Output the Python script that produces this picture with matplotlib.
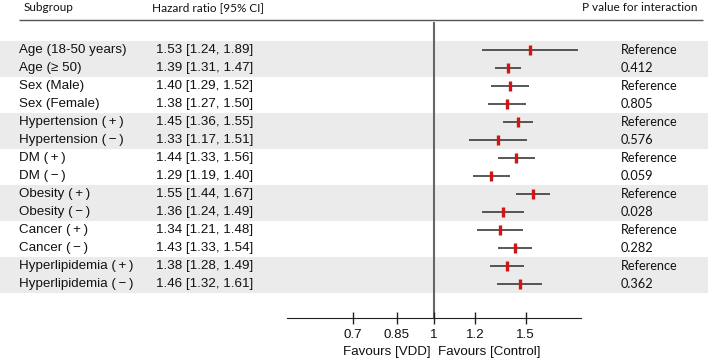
import numpy as np
import matplotlib.pyplot as plt
from matplotlib.transforms import blended_transform_factory

# Data
subgroups = ['Age (18-50 years)', 'Age (\u2265 50)',
             'Sex (Male)', 'Sex (Female)',
             'Hypertension (\u2009+\u2009)', 'Hypertension (\u2009\u2212\u2009)',
             'DM (\u2009+\u2009)', 'DM (\u2009\u2212\u2009)',
             'Obesity (\u2009+\u2009)', 'Obesity (\u2009\u2212\u2009)',
             'Cancer (\u2009+\u2009)', 'Cancer (\u2009\u2212\u2009)',
             'Hyperlipidemia (\u2009+\u2009)', 'Hyperlipidemia (\u2009\u2212\u2009)']
hr = [1.53, 1.39, 1.40, 1.38, 1.45, 1.33, 1.44, 1.29, 1.55, 1.36, 1.34, 1.43, 1.38, 1.46]
lo = [1.24, 1.31, 1.29, 1.27, 1.36, 1.17, 1.33, 1.19, 1.44, 1.24, 1.21, 1.33, 1.28, 1.32]
hi = [1.89, 1.47, 1.52, 1.50, 1.55, 1.51, 1.56, 1.40, 1.67, 1.49, 1.48, 1.54, 1.49, 1.61]
pvals = ['Reference', '0.412', 'Reference', '0.805', 'Reference', '0.576',
         'Reference', '0.059', 'Reference', '0.028', 'Reference', '0.282',
         'Reference', '0.362']
xticks = [0.7, 0.85, 1, 1.2, 1.5]
xticklabels = ['0.7', '0.85', '1', '1.2', '1.5']

W, H = 708, 358
arial = ['Liberation Sans', 'DejaVu Sans']
calibri = ['Lato', 'DejaVu Sans']
txt = '#111111'
fs = 9.6

fig = plt.figure(figsize=(W / 100, H / 100), dpi=100)

# background axes in pixel-like coordinates (y down)
bg = fig.add_axes([0, 0, 1, 1])
bg.set_xlim(0, W)
bg.set_ylim(H, 0)
bg.axis('off')

n = len(subgroups)
ys = 50 + 18.02 * np.arange(n)

# shaded bands for alternating groups
for k in range(0, n, 4):
    bg.axhspan(ys[k] - 9.5, ys[k + 1] + 8.5, color='#ebebeb', lw=0, zorder=0)

# header
bg.text(24, 7.5, 'Subgroup', family=calibri, fontsize=8.5, color=txt, va='center')
bg.text(152, 7.5, 'Hazard ratio [95% CI]', family=calibri, fontsize=8.5, color=txt, va='center')
bg.text(698, 7.5, 'P value for interaction', family=calibri, fontsize=8.5, color=txt,
        va='center', ha='right')
bg.hlines(19.5, 19, 703, color='#555555', lw=1)

for i in range(n):
    bg.text(19, ys[i], subgroups[i], family=arial, fontsize=fs, color=txt, va='center')
    bg.text(156.5, ys[i], '%.2f [%.2f, %.2f]' % (hr[i], lo[i], hi[i]),
            family=arial, fontsize=fs, color=txt, va='center')
    bg.text(620.5, ys[i], pvals[i], family=calibri, fontsize=9.2, color=txt, va='center')

# forest axes (log scale)
x0, x1 = 287.3, 580.7
ax = fig.add_axes([x0 / W, 0, (x1 - x0) / W, 1])
ax.patch.set_alpha(0)
ax.set_xscale('log')
ax.set_xlim(0.525, 1.911)
ax.set_ylim(H, 0)

ax.hlines(ys, lo, hi, color='#2a2a2a', lw=1.1, zorder=2)
ax.plot(hr, ys, ls='none', marker='|', ms=7.5, mew=2.4, color='#d41414', zorder=3)
ax.vlines(1, 22, 318, color='#666666', lw=1.5, zorder=1)

for s in ['left', 'right', 'top']:
    ax.spines[s].set_visible(False)
ax.spines['bottom'].set_position(('data', 318))
ax.spines['bottom'].set_color('#222222')
ax.set_yticks([])
ax.xaxis.set_minor_locator(plt.NullLocator())
ax.set_xticks(xticks)
ax.set_xticklabels(xticklabels, family=arial, fontsize=fs, color=txt)
ax.tick_params(axis='x', direction='inout', length=8, width=1, color='#222222', pad=3.8)

tr = blended_transform_factory(ax.transData, ax.transData)
ax.text(0.985, 351.5, 'Favours [VDD]', family=arial, fontsize=fs, color=txt,
        ha='right', va='center', transform=tr)
ax.text(1.02, 351.5, 'Favours [Control]', family=arial, fontsize=fs, color=txt,
        ha='left', va='center', transform=tr)

fig.savefig('out.png', dpi=100)
